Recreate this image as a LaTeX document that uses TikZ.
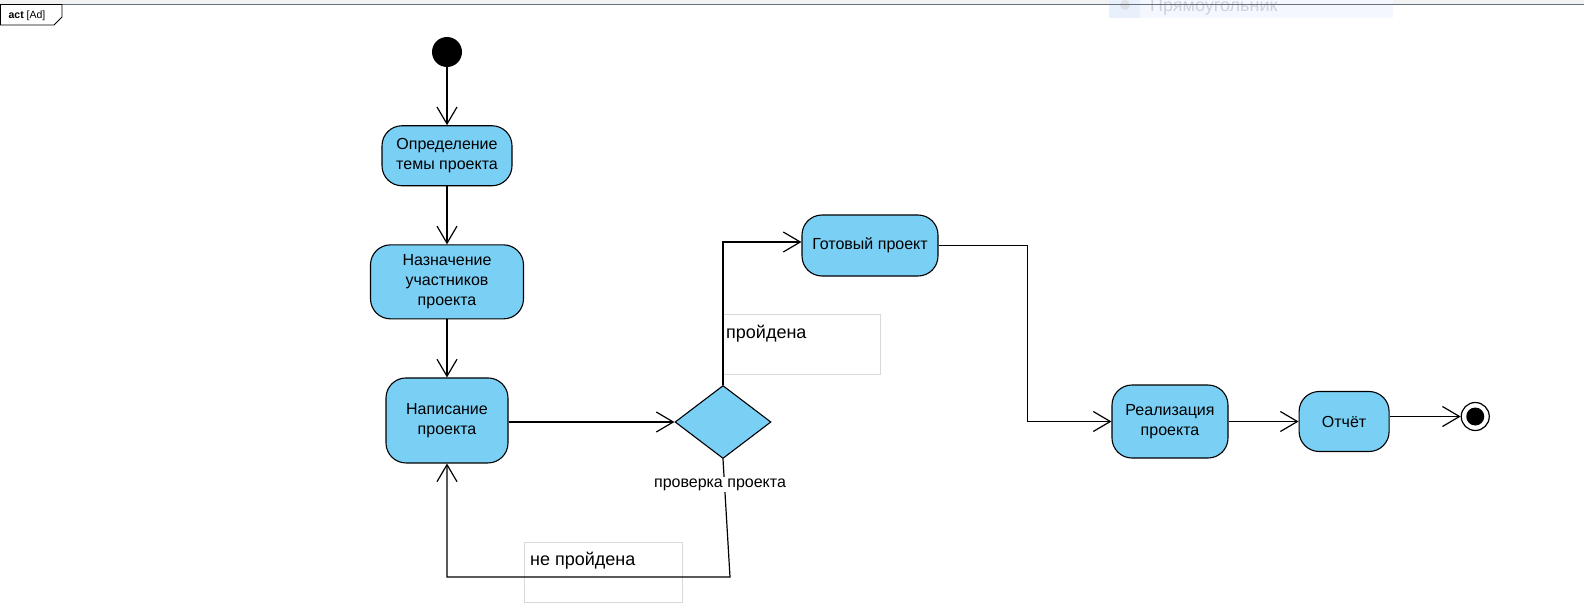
\documentclass[tikz,border=0pt]{standalone}
\usepackage{fontspec}
\setmainfont{Liberation Sans}
\usetikzlibrary{chains,positioning,arrows.meta,shapes.geometric}

\definecolor{actfill}{RGB}{122,207,245}
\definecolor{framegray}{RGB}{104,112,126}
\definecolor{notegray}{RGB}{217,217,217}
\definecolor{hintfill}{RGB}{244,248,254}
\definecolor{hintside}{RGB}{232,240,252}
\definecolor{hinttext}{RGB}{205,210,216}

\begin{document}
\begin{tikzpicture}[x=1pt,y=-1pt,
    action/.style={rectangle, rounded corners=20pt, draw, line width=1.1pt,
      fill=actfill, align=center, inner sep=0pt, font=\fontsize{16}{20}\selectfont},
    decision/.style={diamond, draw, line width=1.1pt, fill=actfill, inner sep=0pt,
      minimum width=96pt, minimum height=73pt},
    startdot/.style={circle, fill=black, inner sep=0pt, minimum size=30pt},
    enddot/.style={circle, draw, line width=1.2pt, fill=white, inner sep=0pt,
      minimum size=28pt, path picture={\fill[black] (path picture bounding box.center) circle (9pt);}},
    guardbox/.style={draw=notegray, line width=0.8pt, anchor=north west,
      minimum width=158pt, minimum height=60pt, inner sep=0pt},
    guardtext/.style={anchor=base west, inner sep=0pt, font=\fontsize{18}{21}\selectfont},
    flow/.style={line width=1.2pt, -{Straight Barb[length=17pt,width=20pt,line width=1.2pt]}},
    node distance=58pt, start chain=going below]

  \clip (0,0) rectangle (1584,605);
  \fill[white] (0,0) rectangle (1584,605);
  \fill[gray!10] (0,0) rectangle (1584,4);

  % tooltip left over at the top
  \fill[hintfill] (1109,0) rectangle (1393,18);
  \fill[hintside] (1109,0) rectangle (1140,18);
  \fill[hinttext!70] (1125,5) circle (5);
  \node[anchor=base west, inner sep=0pt, text=hinttext, font=\fontsize{18}{21}\selectfont]
    (hint) at (1150,11) {Прямоугольник};

  \draw[framegray, line width=1.2pt] (0,4.5) -- (1584,4.5);
  \draw[line width=0.8pt, fill=white] (0.5,4.5) -- (62,4.5) -- (62,17) -- (54,25) -- (0.5,25) -- cycle;
  \node[inner sep=0pt, font=\fontsize{10.5}{12}\selectfont] (frametab) at (27,16) {\textbf{act} [Ad]};

  \node[startdot, on chain] (init) at (447,52) {};
  \node[action, on chain, minimum width=130pt, minimum height=60pt] (topic) {Определение\\темы проекта};
  \node[action, on chain, minimum width=153pt, minimum height=74pt] (team) {Назначение\\участников\\проекта};
  \node[action, on chain, minimum width=122pt, minimum height=85pt] (write) {Написание\\проекта};

  \node[decision] (check) at (723,422) {};
  \node[action, minimum width=136pt, minimum height=61pt] (ready) at (870,245.5) {Готовый проект};
  \node[action, minimum width=116pt, minimum height=73pt] (impl) at (1170,421.5) {Реализация\\проекта};
  \node[action, minimum width=90pt, minimum height=60pt, right=70pt of impl] (report) {Отчёт};
  \node[enddot, right=71pt of report, yshift=5pt] (final) {};

  \node[guardbox] (passbox) at (722,314) {};
  \node[guardtext] (pass) at ([shift={(4pt,-24pt)}]passbox.north west) {пройдена};
  \node[guardbox] (failbox) at (524,542) {};
  \node[guardtext] (fail) at ([shift={(6pt,-23pt)}]failbox.north west) {не пройдена};

  \draw[flow] (init) -- (topic);
  \draw[flow] (topic) -- (team);
  \draw[flow] (team) -- (write);
  \draw[flow] (write.east |- check.west) -- (check.west);
  \draw[flow] (check.north) |- ([yshift=3.5pt]ready.west);
  \draw[flow] (ready.east) -- ++(89,0) |- (impl.west);
  \draw[flow] (impl.east |- report.west) -- (report.west);
  \draw[flow] (report.east |- final.west) -- (final.west);
  \draw[flow] (check.south) -- ++(7,118) -| (write.south);

  \node[fill=white, inner sep=1.5pt, anchor=base, font=\fontsize{16}{20}\selectfont]
    (checklbl) at (720,487) {проверка проекта};
\end{tikzpicture}
\end{document}
